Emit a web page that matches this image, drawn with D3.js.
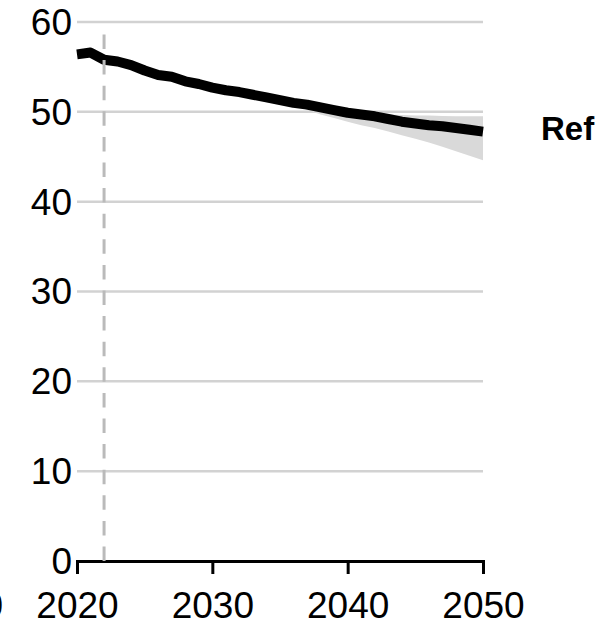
<!DOCTYPE html>
<html>
<head>
<meta charset="utf-8">
<script src="https://cdn.jsdelivr.net/npm/d3@7"></script>
<style>
  html, body { margin: 0; padding: 0; background: #fff; }
  svg { display: block; font-family: "Liberation Sans", Arial, sans-serif; }
</style>
</head>
<body>
<svg id="chart" width="608" height="629"></svg>
<script>
// Reference scenario, 2020–2050
const years = d3.range(2020, 2051);
const refValues = [
  56.4, 56.6, 55.8, 55.6, 55.2, 54.6, 54.1, 53.9, 53.4, 53.1,
  52.7, 52.4, 52.2, 51.9, 51.6, 51.3, 51.0, 50.8, 50.5, 50.2,
  49.9, 49.7, 49.5, 49.2, 48.9, 48.7, 48.5, 48.4, 48.2, 48.0, 47.8
];
// Uncertainty band (from 2035 onwards)
const bandYears = d3.range(2035, 2051);
const bandUpper = [
  51.3, 51.0, 50.8, 50.5, 50.2, 49.9, 49.8, 49.75, 49.7, 49.65,
  49.6, 49.6, 49.55, 49.5, 49.5, 49.5
];
const bandLower = [
  51.3, 50.8, 50.2, 49.7, 49.3, 48.9, 48.5, 48.2, 47.8, 47.4,
  47.0, 46.6, 46.1, 45.6, 45.1, 44.6
];
const yTicks = [0, 10, 20, 30, 40, 50, 60];
const xTicks = [2020, 2030, 2040, 2050];
const baseYear = 2022;
const seriesLabel = "Ref";

const svg = d3.select("#chart");
const x = d3.scaleLinear().domain([2020, 2050]).range([77, 483]);
const y = d3.scaleLinear().domain([0, 60]).range([561, 22]);

// horizontal gridlines
svg.append("g")
  .selectAll("line")
  .data(yTicks.filter(d => d > 0))
  .join("line")
  .attr("x1", x(2020)).attr("x2", x(2050))
  .attr("y1", d => y(d)).attr("y2", d => y(d))
  .attr("stroke", "#d2d2d2").attr("stroke-width", 2.5);

// y tick labels
svg.append("g")
  .selectAll("text")
  .data(yTicks)
  .join("text")
  .attr("x", 72).attr("y", d => y(d))
  .attr("dy", "0.35em")
  .attr("text-anchor", "end")
  .attr("font-size", 37)
  .attr("fill", "#000")
  .text(d => d);

// uncertainty band
const band = bandYears.map((yr, i) => ({ yr, lo: bandLower[i], hi: bandUpper[i] }));
svg.append("path")
  .datum(band)
  .attr("fill", "#d9d9d9")
  .attr("d", d3.area().x(d => x(d.yr)).y0(d => y(d.lo)).y1(d => y(d.hi)));

// x axis
const xAxis = svg.append("g")
  .attr("transform", `translate(0,${y(0)})`)
  .call(d3.axisBottom(x).tickValues(xTicks).tickFormat(d3.format("d")).tickSize(13).tickPadding(18));
xAxis.select(".domain").attr("stroke", "#000").attr("stroke-width", 3);
xAxis.selectAll(".tick line").attr("stroke", "#000").attr("stroke-width", 3);
xAxis.selectAll(".tick text")
  .attr("font-size", 37).attr("fill", "#000")
  .attr("font-family", "Liberation Sans, Arial, sans-serif");

// reference line
const line = d3.line().x((d, i) => x(years[i])).y(d => y(d));
svg.append("path")
  .datum(refValues)
  .attr("fill", "none")
  .attr("stroke", "#000")
  .attr("stroke-width", 10)
  .attr("stroke-linejoin", "round")
  .attr("d", line);

// base-year marker
svg.append("line")
  .attr("x1", x(baseYear)).attr("x2", x(baseYear))
  .attr("y1", 34.5).attr("y2", y(0))
  .attr("stroke", "#bababa").attr("stroke-width", 3)
  .attr("stroke-dasharray", "14.5,11.1");

// series label
svg.append("text")
  .attr("x", 541).attr("y", y(refValues[refValues.length - 1]) - 3)
  .attr("dy", "0.35em")
  .attr("font-size", 33).attr("font-weight", "bold")
  .attr("fill", "#000")
  .text(seriesLabel);

// neighbouring panel's last tick label, clipped at the edge
svg.append("text")
  .attr("x", 3).attr("y", y(0) + 31)
  .attr("dy", "0.71em")
  .attr("text-anchor", "end")
  .attr("font-size", 37).attr("fill", "#000")
  .text("2050");
</script>
</body>
</html>
